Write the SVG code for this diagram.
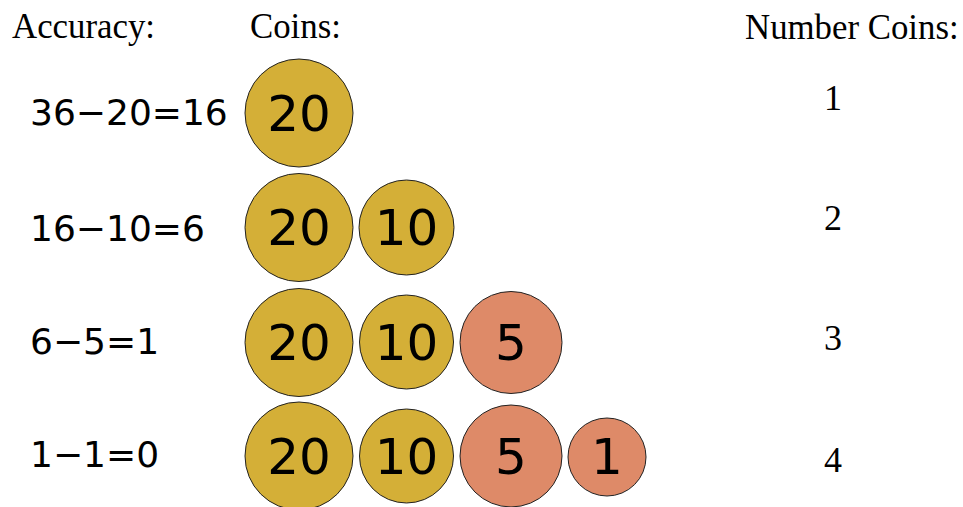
<svg xmlns="http://www.w3.org/2000/svg" width="963" height="507" viewBox="0 0 963 507">
<style>
.hdr{font-family:"Liberation Serif","Times New Roman",serif;font-size:34.8px;fill:#000}
.num{font-family:"Liberation Serif","Times New Roman",serif;font-size:36px;fill:#000;text-anchor:middle}
.eq{font-family:"DejaVu Sans",sans-serif;font-size:36px;fill:#000}
.cv{font-family:"DejaVu Sans",sans-serif;font-size:50px;fill:#000;text-anchor:middle}
.gold{fill:#D4AF37;stroke:#222;stroke-width:1}
.red{fill:#DE8A68;stroke:#222;stroke-width:1}
</style>
<rect width="963" height="507" fill="#fff"/>
<g id="headers">
<text class="hdr" x="12" y="38">Accuracy:</text>
<text class="hdr" x="250" y="38">Coins:</text>
<text class="hdr" x="745" y="39">Number Coins:</text>
</g>
<g id="row1">
<text class="eq" x="30" y="125">36−20=16</text>
<g id="r1c20"><circle class="gold" cx="299" cy="113" r="54"/><text class="cv" x="299" y="131">20</text></g>
<text class="num" x="833" y="110">1</text>
</g>
<g id="row2">
<text class="eq" x="30" y="241">16−10=6</text>
<g id="r2c20"><circle class="gold" cx="299" cy="227.5" r="54"/><text class="cv" x="299" y="245">20</text></g>
<g id="r2c10"><circle class="gold" cx="406.5" cy="227.5" r="47.5"/><text class="cv" x="406.5" y="245">10</text></g>
<text class="num" x="833" y="230">2</text>
</g>
<g id="row3">
<text class="eq" x="30" y="354">6−5=1</text>
<g id="r3c20"><circle class="gold" cx="299" cy="342.5" r="54"/><text class="cv" x="299" y="360">20</text></g>
<g id="r3c10"><circle class="gold" cx="406.5" cy="342" r="47"/><text class="cv" x="406.5" y="360">10</text></g>
<g id="r3c5"><circle class="red" cx="511" cy="342.5" r="51"/><text class="cv" x="511" y="360">5</text></g>
<text class="num" x="833" y="350">3</text>
</g>
<g id="row4">
<text class="eq" x="30" y="467">1−1=0</text>
<g id="r4c20"><circle class="gold" cx="299" cy="456" r="54"/><text class="cv" x="299" y="474">20</text></g>
<g id="r4c10"><circle class="gold" cx="406.5" cy="456" r="47"/><text class="cv" x="406.5" y="474">10</text></g>
<g id="r4c5"><circle class="red" cx="511" cy="456" r="51"/><text class="cv" x="511" y="474">5</text></g>
<g id="r4c1"><circle class="red" cx="607" cy="457" r="39"/><text class="cv" x="607" y="474">1</text></g>
<text class="num" x="833" y="472">4</text>
</g>
<g id="connectors"/>
</svg>
